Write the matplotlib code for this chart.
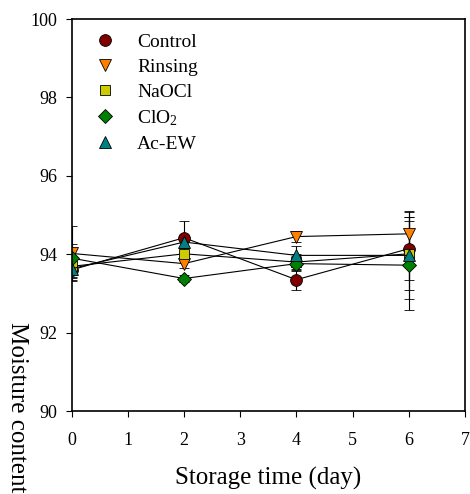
import matplotlib.pyplot as plt
from matplotlib.lines import Line2D

plt.rcParams['font.family'] = ['Liberation Serif', 'DejaVu Serif']
plt.rcParams['mathtext.default'] = 'regular'

days = [0, 2, 4, 6]

labels = ['Control', 'Rinsing', 'NaOCl', 'ClO$_2$', 'Ac-EW']
control = [93.60, 94.42, 93.35, 94.14]
rinsing = [94.02, 93.76, 94.45, 94.52]
naocl = [93.69, 94.01, 93.80, 94.01]
clo2 = [93.90, 93.38, 93.76, 93.72]
acew = [93.63, 94.31, 93.97, 93.97]

control_err = [0.25, 0.42, 0.27, 0.81]
rinsing_err = [0.71, 0.10, 0.14, 0.59]
naocl_err = [0.26, 0.15, 0.20, 0.93]
clo2_err = [0.35, 0.10, 0.20, 1.14]
acew_err = [0.24, 0.15, 0.25, 1.10]

series = [control, rinsing, naocl, clo2, acew]
errors = [control_err, rinsing_err, naocl_err, clo2_err, acew_err]
colors = ['#800000', '#FF8000', '#CCCC00', '#008000', '#008080']
markers = ['o', 'v', 's', 'D', '^']
sizes = [8.5, 8.5, 7.5, 7.5, 8.5]

fig = plt.figure(figsize=(4.70, 4.94), dpi=100)
ax = fig.add_axes([0.1525, 0.168, 0.8368, 0.7935])

handles = []
for vals, err, c, m, ms, lab in zip(series, errors, colors, markers, sizes, labels):
  ax.errorbar(days, vals, yerr=err, color='black', lw=0.8, elinewidth=0.8,
              capsize=3.5, capthick=0.8, marker=m, markersize=ms,
              markerfacecolor=c, markeredgecolor='black', markeredgewidth=0.6)
  handles.append(Line2D([], [], linestyle='none', marker=m, markersize=ms,
                        markerfacecolor=c, markeredgecolor='black', markeredgewidth=0.6))

ax.set_xlim(0, 7)
ax.set_ylim(90, 100)
ax.set_xticks(range(0, 8))
ax.set_yticks(range(90, 101, 2))
ax.tick_params(direction='out', length=4, width=0.8, labelsize=13, top=False, right=False)
ax.tick_params(axis='x', pad=11)
ax.tick_params(axis='y', pad=6.5)
for s in ax.spines.values():
  s.set_linewidth(1.2)

ax.set_xlabel('Storage time (day)', fontsize=18, labelpad=13)
fig.text(0.036, 1 - 322/494, 'Moisture content', rotation=-90, va='top', ha='center', fontsize=18)

ax.legend(handles, labels, loc='upper left', frameon=False, fontsize=14,
          handlelength=1.0, handletextpad=1.15, labelspacing=0.38,
          borderpad=0, borderaxespad=0, bbox_to_anchor=(0.06, 0.964))

fig.savefig('out.png', dpi=100)
